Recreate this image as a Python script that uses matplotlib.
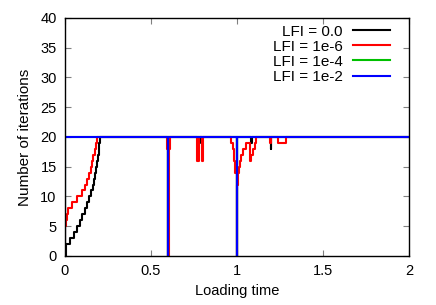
import matplotlib
matplotlib.use("Agg")
import matplotlib.pyplot as plt

plt.rcParams['font.family'] = ['Liberation Sans', 'DejaVu Sans']

# Loading time / iteration count (step data)
black_t = [0, 0.005, 0.03, 0.055, 0.07, 0.085, 0.1, 0.115, 0.128, 0.14, 0.152, 0.162,
           0.17, 0.176, 0.182, 0.187, 0.191, 0.195, 0.198, 0.201,
           0.6, 0.6, 0.778, 0.783, 1.0, 1.0, 1.08, 1.085, 1.195, 1.2, 2.0]
black_v = [0, 2, 3, 4, 5, 6, 7, 8, 9, 10, 11, 12,
           13, 14, 15, 16, 17, 18, 19, 20,
           0, 20, 19, 20, 0, 20, 19, 20, 18, 20, 20]

red_t = [0, 0.003, 0.006, 0.012, 0.02, 0.04, 0.07, 0.1, 0.117, 0.13, 0.14, 0.15,
         0.158, 0.165, 0.172, 0.179, 0.188,
         0.592, 0.6, 0.602, 0.605, 0.608,
         0.77, 0.778, 0.795, 0.803,
         0.966, 0.976, 0.985, 0.991, 1.0, 1.002, 1.005, 1.011, 1.018, 1.024, 1.034,
         1.05, 1.073, 1.083, 1.092, 1.102, 1.112, 1.121,
         1.19, 1.2, 1.238, 1.287, 2.0]
red_v = [0, 5, 6, 7, 8, 9, 10, 11, 12, 13, 14, 15,
         16, 17, 18, 19, 20,
         18, 0, 17, 18, 20,
         16, 20, 16, 20,
         19, 18, 16, 14, 0, 12, 14, 15, 16, 17, 18,
         19, 16, 17, 18, 19, 20, 20,
         19, 20, 19, 20, 20]

green_t = [0, 0, 0.6, 0.6, 1.0, 1.0, 2.0]
green_v = [0, 20, 0, 20, 0, 20, 20]

blue_t = [0, 0, 0.6, 0.6, 1.0, 1.0, 2.0]
blue_v = [0, 20, 0, 20, 0, 20, 20]

fig = plt.figure(figsize=(4.36, 3.05), dpi=100)
ax = fig.add_axes([0.149, 0.161, 0.789, 0.780])

ax.plot(black_t, black_v, drawstyle="steps-post", color="black", lw=1.5, label="LFI = 0.0")
ax.plot(red_t, red_v, drawstyle="steps-post", color="#ff0000", lw=1.5, label="LFI = 1e-6")
ax.plot(green_t, green_v, drawstyle="steps-post", color="#00c000", lw=1.5, label="LFI = 1e-4")
ax.plot(blue_t, blue_v, drawstyle="steps-post", color="#0000ff", lw=1.5, label="LFI = 1e-2")

ax.set_xlim(0, 2)
ax.set_ylim(0, 40)
ax.set_xticks([0, 0.5, 1, 1.5, 2])
ax.set_xticklabels(["0", "0.5", "1", "1.5", "2"])
ax.set_yticks(range(0, 41, 5))
ax.tick_params(direction="in", top=True, right=True, length=4, width=0.8,
               color="#808080", labelsize=10.5, pad=6)
for s in ax.spines.values():
    s.set_linewidth(1.0)

ax.set_xlabel("Loading time", fontsize=10.5, labelpad=4)
ax.set_ylabel("Number of iterations", fontsize=11, labelpad=6)

ax.legend(loc="upper right", bbox_to_anchor=(0.945, 0.972), frameon=False,
          markerfirst=False, fontsize=11, handlelength=2.4, handletextpad=0.7,
          labelspacing=0.07, borderaxespad=0, borderpad=0)

fig.savefig("out.png", dpi=100)
